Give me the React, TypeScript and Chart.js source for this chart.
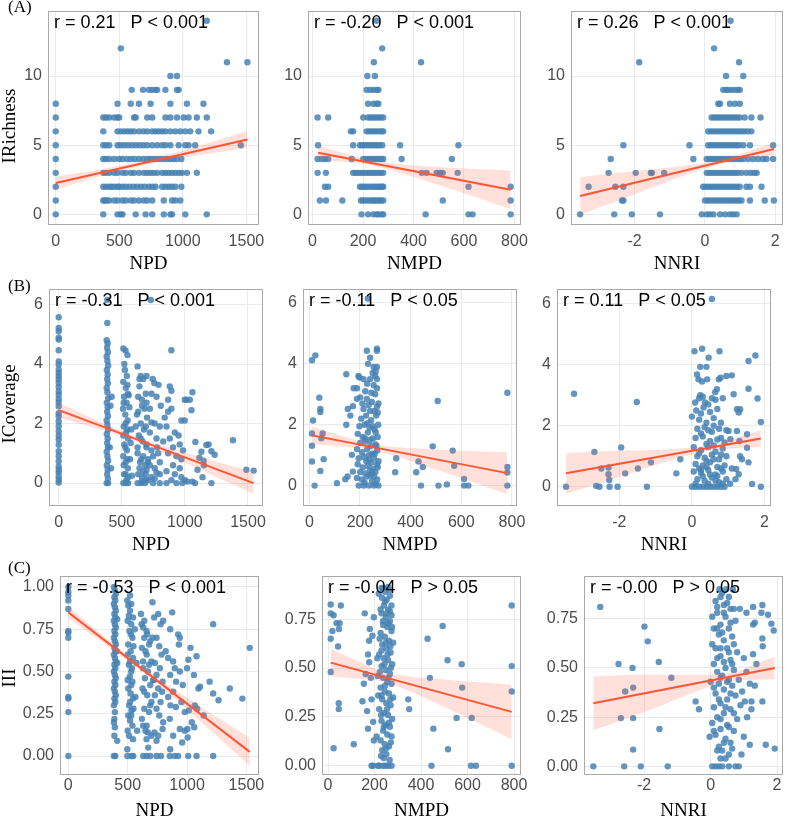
import React, { useEffect, useRef } from 'react';
import { Chart, registerables } from 'chart.js';
Chart.register(...registerables);

// ---------------- DATA ----------------
// Row A: IRichness is integer; index = IRichness value, entries = x values
const richnessNPD: number[][] = [
  [0, 374, 486, 512, 525, 629, 707, 759, 850, 902, 915, 1019, 1188],
  [0, 374, 386, 400, 421, 460, 486, 525, 551, 590, 616, 655, 694, 720, 759, 850, 915, 941, 980],
  [0, 374, 395, 421, 440, 460, 486, 499, 525, 551, 580, 610, 640, 670, 700, 733, 759, 785, 837, 863, 889, 915, 941, 988],
  [0, 374, 395, 421, 460, 486, 525, 551, 590, 616, 655, 694, 720, 745, 770, 798, 837, 863, 889, 915, 941, 967, 993, 1032, 1110],
  [0, 374, 395, 421, 460, 499, 525, 560, 590, 620, 655, 690, 720, 745, 772, 798, 825, 850, 876, 902, 928, 954, 988],
  [0, 374, 395, 421, 486, 512, 540, 570, 600, 630, 660, 690, 720, 759, 798, 837, 863, 902, 967, 1019, 1045, 1097, 1456],
  [0, 374, 486, 512, 540, 565, 590, 616, 655, 690, 720, 759, 785, 810, 837, 863, 902, 941, 980, 1019, 1058, 1123, 1222],
  [0, 374, 395, 421, 460, 486, 499, 616, 629, 720, 759, 863, 902, 954, 1006, 1045, 1110, 1188],
  [0, 486, 590, 655, 746, 902, 1032, 1162],
  [598, 686, 733, 759, 785, 798, 863, 954, 967],
  [902, 954],
  [1347, 1508],
  [512],
  [],
  [1188],
];
const richnessNMPD: number[][] = [
  [194, 220, 241, 254, 261, 274, 280, 448, 618, 634, 785],
  [29, 53, 118, 192, 200, 210, 222, 232, 240, 248, 256, 264, 272, 280, 516, 785],
  [49, 62, 188, 196, 205, 214, 224, 234, 244, 252, 260, 268, 276, 280, 618, 785],
  [20, 53, 161, 170, 180, 190, 200, 210, 220, 230, 240, 250, 260, 270, 280, 433, 452, 492, 505, 516, 575],
  [20, 36, 49, 62, 155, 201, 212, 222, 232, 242, 252, 262, 272, 280, 353, 552],
  [22, 161, 188, 196, 206, 216, 226, 236, 246, 256, 266, 276, 347, 578],
  [152, 161, 214, 224, 234, 244, 254, 264, 274, 280],
  [20, 62, 201, 220, 230, 240, 250, 260, 270, 280],
  [220, 241, 254, 261],
  [214, 228, 241, 254, 261],
  [217, 247],
  [243, 430],
  [276],
  [],
  [254],
];
const richnessNNRI: number[][] = [
  [-3.55, -2.58, -2.08, -1.28, -0.09, 0.05, 0.14, 0.24, 0.43, 0.57, 0.71, 0.8, 0.9],
  [-2.36, -2.32, 0.0, 0.08, 0.16, 0.24, 0.32, 0.4, 0.48, 0.56, 0.64, 0.72, 0.8, 0.88, 0.96, 1.04, 1.28, 1.7, 1.96],
  [-3.31, -2.55, -2.32, -0.05, 0.03, 0.11, 0.19, 0.27, 0.35, 0.43, 0.51, 0.59, 0.67, 0.75, 0.83, 0.91, 0.99, 1.18, 1.28, 1.61],
  [-2.74, -1.97, -1.54, -1.51, -1.16, 0.05, 0.13, 0.21, 0.29, 0.37, 0.45, 0.53, 0.61, 0.69, 0.77, 0.85, 0.93, 1.04, 1.18, 1.3, 1.4, 1.47],
  [-2.68, -0.33, 0.05, 0.13, 0.21, 0.29, 0.37, 0.45, 0.53, 0.61, 0.69, 0.77, 0.85, 0.93, 1.01, 1.09, 1.23, 1.37, 1.51, 1.65, 1.75, 1.94],
  [-2.32, -0.44, 0.09, 0.17, 0.25, 0.33, 0.41, 0.49, 0.57, 0.65, 0.73, 0.81, 0.89, 0.97, 1.09, 1.28, 1.94],
  [0.09, 0.17, 0.25, 0.33, 0.41, 0.49, 0.57, 0.65, 0.73, 0.81, 0.89, 0.97, 1.05, 1.13, 1.22, 1.32],
  [0.19, 0.27, 0.35, 0.43, 0.51, 0.59, 0.67, 0.75, 0.83, 0.91, 0.99, 1.13, 1.32, 1.58],
  [0.38, 0.43, 0.71, 0.85, 0.99],
  [0.52, 0.6, 0.66, 0.75, 0.85, 0.94, 0.99],
  [0.6, 1.09],
  [-1.87, 0.97],
  [0.26],
  [],
  [0.73],
];

// Row B: ICoverage [x, y]
const coverageNPD: number[][] = [
  [0, 5.57], [0, 5.21], [0, 5.1], [0, 4.88], [0, 4.82], [0, 4.46], [0, 4.09], [0, 3.98], [0, 3.81], [0, 3.7], [0, 3.59], [0, 3.48],
  [0, 3.36], [0, 3.23], [0, 3.08], [0, 2.97], [0, 2.83], [0, 2.72], [0, 2.58], [0, 2.35], [0, 2.24], [0, 2.07], [0, 1.91], [0, 1.74],
  [0, 1.59], [0, 1.46], [0, 1.29], [0, 1.07], [0, 0.9], [0, 0.73], [0, 0.56], [0, 0.45], [0, 0.36], [0, 0.22], [0, 0.11], [0, 0.02],
  [385, 6.15], [385, 5.38], [380, 4.8], [388, 4.7], [383, 4.55], [390, 4.4], [380, 4.25], [386, 4.1], [392, 3.95], [381, 3.8], [388, 3.65],
  [384, 3.5], [390, 3.35], [380, 3.2], [386, 3.05], [392, 2.85], [381, 2.7], [388, 2.55], [384, 2.4], [390, 2.25], [380, 2.1], [386, 1.95],
  [392, 1.8], [381, 1.65], [388, 1.5], [384, 1.35], [390, 1.2], [380, 1.05], [386, 0.9], [392, 0.75], [381, 0.6], [388, 0.45], [384, 0.3],
  [390, 0.15], [380, 0.0], [392, 0.0], [420, 2.9], [410, 2.6], [405, 1.2], [415, 0.5],
  [512, 4.52], [530, 4.45], [545, 4.3], [520, 4.0], [540, 3.6], [512, 3.4], [532, 3.2], [548, 3.0], [518, 2.9], [538, 2.7], [510, 2.5],
  [528, 2.3], [546, 2.1], [515, 1.9], [535, 1.7], [550, 1.5], [520, 1.3], [540, 1.1], [512, 0.9], [530, 0.7], [548, 0.5], [518, 0.3],
  [536, 0.1], [512, 0.0], [530, 0.0], [550, 0.0], [560, 2.55], [575, 1.8], [565, 0.8], [580, 0.25], [555, 2.95], [570, 1.35],
  [525, 3.8], [545, 3.3], [515, 2.7], [530, 2.0], [545, 1.8], [512, 1.6], [528, 1.2], [545, 0.8], [515, 0.6], [530, 0.3], [550, 0.2],
  [625, 3.92], [650, 3.6], [670, 3.5], [640, 3.25], [690, 3.0], [630, 2.9], [660, 2.6], [680, 2.5], [620, 2.3], [650, 2.0], [675, 1.8],
  [635, 1.6], [665, 1.4], [695, 1.2], [625, 1.0], [655, 0.8], [685, 0.6], [640, 0.5], [670, 0.4], [630, 0.3], [660, 0.2], [690, 0.1],
  [625, 0.0], [655, 0.0], [685, 0.0], [700, 2.2], [610, 1.9], [705, 0.7],
  [640, 3.5], [660, 2.8], [630, 2.4], [690, 1.9], [650, 1.5], [625, 1.2], [670, 0.9], [690, 0.3], [645, 0.7], [660, 0.05],
  [730, 6.15], [696, 3.6], [745, 3.5], [758, 3.36], [791, 3.3], [735, 3.0], [775, 2.9], [696, 2.7], [809, 2.6], [722, 2.5], [735, 2.04],
  [761, 2.0], [801, 1.9], [722, 1.7], [775, 1.5], [696, 1.3], [735, 1.1], [788, 1.0], [748, 0.9], [709, 0.8], [801, 0.7], [722, 0.6],
  [761, 0.5], [696, 0.45], [775, 0.35], [801, 0.3], [735, 0.2], [709, 0.1], [748, 0.0], [801, 0.0], [780, 1.2], [760, 0.15],
  [893, 4.46], [880, 3.25], [893, 3.1], [867, 2.8], [999, 2.8], [893, 2.5], [867, 2.4], [972, 2.1], [999, 2.1], [854, 1.9], [920, 1.7],
  [880, 1.5], [828, 1.4], [959, 1.3], [906, 1.2], [985, 1.1], [867, 1.0], [933, 0.9], [972, 0.8], [906, 0.6], [959, 0.5], [854, 0.4],
  [920, 0.3], [972, 0.2], [893, 0.1], [854, 0.0], [933, 0.0], [980, 0.0], [840, 2.2], [950, 1.6],
  [1060, 3.05], [1039, 2.8], [1012, 2.8], [1052, 2.45], [1083, 1.38], [1131, 1.05], [1170, 1.28], [1188, 1.3], [1210, 1.07], [1236, 0.95],
  [1115, 0.85], [1148, 0.75], [1150, 0.6], [1100, 0.45], [1140, 0.2], [1210, 0.0], [1060, 0.05], [1080, 0.0], [1000, 0.1], [1020, 0.05],
  [1381, 1.44], [1487, 0.45], [1545, 0.42],
];
const coverageNMPD: number[][] = [
  [10.5, 4.12], [23.7, 4.28], [14.5, 2.14], [10.5, 1.71], [10.5, 1.31], [10.5, 0.79], [21, 0], [39.4, 2.89], [43.4, 2.52], [43.4, 2.42],
  [47.3, 1.56], [43.4, 0.48], [52.6, 1.71], [56.5, 0.87], [109, 0.08], [146, 2.0], [152, 2.52], [146, 3.66], [151, 0.3], [142, 0.21],
  [162, 2.3], [168, 1.01], [172, 2.61], [172, 0.46],
  [227, 4.43], [267, 4.5], [267, 4.43], [240, 4.2], [254, 3.9], [267, 3.9], [194, 3.6], [198, 3.55], [214, 3.5], [240, 3.5], [260, 3.6],
  [267, 3.5], [175, 3.2], [188, 3.2], [221, 3.1], [254, 3.3], [267, 3.2], [201, 2.9], [227, 2.85], [247, 2.75], [267, 2.6], [188, 2.85],
  [214, 2.52], [234, 2.65], [257, 2.45], [273, 2.7], [205, 2.2], [224, 2.3], [244, 2.15], [264, 2.3], [198, 1.95], [218, 2.0], [238, 1.9],
  [258, 1.85], [272, 2.0], [191, 1.7], [211, 1.6], [231, 1.75], [251, 1.55], [270, 1.6], [201, 1.4], [221, 1.45], [241, 1.3], [261, 1.35],
  [188, 1.2], [208, 1.1], [228, 1.2], [248, 1.05], [268, 1.15], [195, 0.9], [215, 0.95], [235, 0.85], [255, 0.9], [273, 0.8], [191, 0.7],
  [211, 0.6], [231, 0.65], [251, 0.55], [270, 0.6], [201, 0.45], [221, 0.4], [241, 0.35], [261, 0.45], [188, 0.25], [208, 0.2], [228, 0.3],
  [248, 0.15], [268, 0.2], [195, 0.0], [215, 0.0], [235, 0.0], [255, 0.0], [273, 0.0], [231, 6.15],
  [232, 4.0], [250, 3.7], [262, 3.75], [228, 3.35], [245, 3.05], [260, 3.0], [210, 2.7], [240, 2.45], [270, 2.4], [230, 2.05], [250, 1.95],
  [262, 1.75], [220, 1.55], [240, 1.5], [265, 1.3], [235, 1.0], [258, 1.05], [245, 0.75], [225, 0.8], [268, 0.7], [240, 0.5], [255, 0.3],
  [218, 0.1], [262, 0.05], [248, 0.4],
  [343, 0.9], [339, 0.44], [422, 0.44], [431, 0.79], [448, 0.61], [441, 0], [487, 1.29], [507, 2.78], [510, 0], [543, 0.04], [566, 1.15],
  [572, 0.65], [611, 0.22], [611, 0], [628, 0], [782, 3.05], [782, 0.61], [782, 0.43], [782, 0],
];
const coverageNNRI: number[][] = [
  [-3.47, 0], [-3.25, 3.05], [-2.69, 1.14], [-2.64, 0.03], [-2.55, 0], [-2.5, 0.6], [-2.3, 0.63], [-2.3, 0.41], [-2.28, 0.22], [-2.27, 0],
  [-2.05, 0], [-1.95, 1.29], [-1.84, 0.44], [-1.52, 2.78], [-1.49, 0.6], [-1.24, 0], [-1.13, 0.8], [-0.43, 0.44], [-0.32, 0.9],
  [0.07, 4.44], [0.28, 4.52], [0.76, 4.44], [0.46, 4.23], [0.23, 3.93], [0.4, 3.93], [0.14, 3.68], [0.18, 3.52], [0.28, 3.45], [0.42, 3.52],
  [0.74, 3.52], [0.79, 3.57], [0.69, 3.2], [0.64, 3.1], [0.09, 2.76], [0.23, 3.0], [0.3, 2.95], [0.36, 2.76], [0.55, 2.9], [0.85, 2.9],
  [0.12, 2.5], [0.32, 2.6], [0.5, 2.45], [0.7, 2.55], [0.0, 2.3], [0.2, 2.2], [0.4, 2.1], [0.6, 2.25], [0.8, 2.1], [0.15, 1.9], [0.35, 1.95],
  [0.55, 1.8], [0.75, 1.9], [0.95, 1.85], [0.1, 1.6], [0.3, 1.65], [0.5, 1.5], [0.7, 1.55], [0.9, 1.45], [0.05, 1.3], [0.25, 1.2], [0.45, 1.3],
  [0.65, 1.15], [0.85, 1.25], [0.15, 1.0], [0.35, 0.95], [0.55, 1.05], [0.75, 0.9], [0.95, 1.0], [0.1, 0.75], [0.3, 0.7], [0.5, 0.8],
  [0.7, 0.65], [0.9, 0.7], [0.05, 0.5], [0.25, 0.45], [0.45, 0.55], [0.65, 0.4], [0.85, 0.5], [0.15, 0.25], [0.35, 0.2], [0.55, 0.3],
  [0.75, 0.15], [0.95, 0.25], [0.0, 0.0], [0.1, 0.0], [0.2, 0.0], [0.3, 0.0], [0.4, 0.0], [0.5, 0.0], [0.6, 0.0], [0.7, 0.0], [0.8, 0.0],
  [0.9, 0.0], [0.55, 6.15],
  [0.2, 2.9], [0.45, 2.7], [0.65, 2.85], [0.25, 2.4], [0.6, 2.0], [0.45, 1.85], [0.25, 1.75], [0.8, 1.6], [0.4, 1.4], [0.6, 1.35], [0.2, 1.1],
  [0.8, 1.05], [0.4, 0.85], [0.6, 0.9], [0.2, 0.6], [0.4, 0.65], [0.8, 0.6], [0.3, 0.35], [0.5, 0.4], [0.7, 0.35], [0.1, 0.1], [0.45, 0.1],
  [0.65, 0.2], [0.85, 0.1], [0.25, 0.55],
  [0.95, 3.63], [1.1, 3.65], [1.15, 3.03], [1.29, 2.43], [1.33, 2.54], [1.24, 2.54], [1.56, 4.12], [1.75, 4.3], [1.56, 3.21], [1.81, 2.89],
  [1.9, 2.12], [1.24, 1.83], [1.52, 1.72], [1.31, 1.5], [1.52, 1.28], [1.33, 1.0], [1.38, 0.9], [1.22, 0.58], [1.29, 0.41], [1.56, 0.8],
  [1.66, 0.09], [1.9, 0], [1.01, 1.83], [1.06, 1.56], [1.1, 0.6], [1.2, 0.25], [1.05, 0.1],
];

// Row C: III [x, y]
const indexNPD: number[][] = [
  [0, 1.0], [0, 0.97], [0, 0.95], [0, 0.92], [0, 0.87], [0, 0.74], [0, 0.73], [0, 0.7], [0, 0.47], [0, 0.35], [0, 0.34], [0, 0.26], [0, 0.0],
  [384, 1.0], [392, 0.98], [400, 0.96], [388, 0.94], [396, 0.92], [384, 0.9], [392, 0.88], [400, 0.86], [388, 0.84], [396, 0.82], [412, 0.81],
  [384, 0.8], [392, 0.78], [400, 0.76], [388, 0.74], [396, 0.72], [384, 0.7], [392, 0.68], [400, 0.66], [388, 0.64], [396, 0.62], [384, 0.6],
  [392, 0.58], [400, 0.56], [388, 0.54], [396, 0.52], [384, 0.5], [392, 0.48], [400, 0.46], [388, 0.44], [396, 0.42], [384, 0.4], [392, 0.38],
  [400, 0.36], [388, 0.34], [396, 0.32], [384, 0.3], [392, 0.26], [388, 0.22], [384, 0.2], [392, 0.17], [388, 0.12], [412, 0.09], [384, 0.0],
  [396, 0.0], [408, 0.62], [412, 0.55],
  [497, 0.92], [505, 0.89], [520, 0.86], [510, 0.83], [530, 0.78], [515, 0.74], [540, 0.7], [505, 0.66], [525, 0.62], [545, 0.58], [510, 0.54],
  [530, 0.5], [518, 0.47], [540, 0.44], [505, 0.4], [525, 0.37], [545, 0.34], [512, 0.3], [532, 0.27], [505, 0.24], [520, 0.21], [540, 0.18],
  [512, 0.12], [497, 0.04], [497, 0.0], [533, 0.0], [547, 0.0], [560, 0.75], [575, 0.55], [565, 0.35], [580, 0.15],
  [520, 0.95], [530, 0.9], [545, 0.82], [500, 0.8], [528, 0.72], [548, 0.65], [500, 0.6], [520, 0.56], [535, 0.52], [500, 0.45], [530, 0.42],
  [520, 0.32], [548, 0.28], [530, 0.24], [500, 0.15], [545, 0.1],
  [612, 0.84], [617, 0.78], [631, 0.76], [659, 0.74], [640, 0.7], [680, 0.66], [620, 0.64], [660, 0.6], [700, 0.56], [630, 0.52], [670, 0.5],
  [645, 0.46], [690, 0.42], [625, 0.4], [665, 0.36], [700, 0.32], [640, 0.28], [680, 0.26], [620, 0.22], [660, 0.18], [700, 0.12], [659, 0.1],
  [673, 0.05], [631, 0.0], [659, 0.0], [743, 0.0], [710, 0.7], [715, 0.45], [650, 0.15],
  [640, 0.8], [665, 0.72], [690, 0.68], [650, 0.62], [630, 0.56], [680, 0.54], [640, 0.38], [690, 0.3], [630, 0.18], [670, 0.14], [690, 0.0],
  [709, 0.91], [757, 0.84], [723, 0.82], [799, 0.8], [777, 0.78], [743, 0.7], [766, 0.65], [785, 0.6], [729, 0.55], [771, 0.52], [743, 0.48],
  [794, 0.44], [757, 0.4], [729, 0.36], [777, 0.32], [743, 0.28], [766, 0.24], [799, 0.2], [726, 0.14], [757, 0.12], [743, 0.09], [794, 0.16],
  [780, 0.0], [720, 0.45], [790, 0.38],
  [875, 0.85], [858, 0.75], [925, 0.72], [939, 0.7], [931, 0.66], [841, 0.58], [883, 0.56], [897, 0.52], [939, 0.5], [858, 0.48], [908, 0.44],
  [964, 0.42], [883, 0.38], [841, 0.35], [953, 0.32], [906, 0.29], [981, 0.26], [855, 0.22], [939, 0.16], [981, 0.15], [883, 0.12], [959, 0.08],
  [858, 0.04], [855, 0.0], [897, 0.0], [925, 0.0], [820, 0.62], [860, 0.3],
  [1029, 0.64], [1080, 0.59], [1011, 0.57], [1000, 0.52], [1058, 0.48], [1096, 0.4], [1110, 0.41], [1190, 0.44], [1220, 0.37], [1220, 0.78],
  [1265, 0.33], [1065, 0.3], [1085, 0.28], [1015, 0.27], [1040, 0.2], [1060, 0.17], [1003, 0.16], [1140, 0.24], [1005, 0.11], [1080, 0.0],
  [1220, 0.0], [1010, 0.0], [1360, 0.4], [1466, 0.34], [1528, 0.64],
];
const indexNMPD: number[][] = [
  [11.5, 0.825], [11.5, 0.78], [24, 0.77], [55, 0.82], [36, 0.73], [50, 0.73], [47, 0.7], [11.5, 0.65], [18.7, 0.69], [43, 0.61], [11.5, 0.48],
  [46, 0.32], [46, 0.29], [24, 0.09], [110.6, 0.11], [148, 0.33], [154, 0.42], [162, 0.47], [172, 0.19], [168, 0.28], [172, 0.57], [177, 0.53],
  [177, 0.64], [180, 0.7], [158, 0.78], [197, 0.76], [191, 0.665], [184, 0.45], [187, 0.34], [194, 0.225], [197, 0.13], [194, 0], [215, 0], [187, 0],
  [230, 0.91], [237, 0.91], [259, 0.915], [245, 0.89], [266, 0.87], [252, 0.85], [273, 0.82], [240, 0.82], [259, 0.8], [273, 0.77], [230, 0.78],
  [248, 0.76], [266, 0.74], [237, 0.72], [255, 0.71], [273, 0.69], [226, 0.68], [244, 0.66], [262, 0.64], [280, 0.63], [233, 0.62], [251, 0.6],
  [269, 0.58], [220, 0.57], [240, 0.55], [258, 0.54], [276, 0.52], [230, 0.51], [248, 0.49], [266, 0.47], [214, 0.46], [237, 0.45], [255, 0.43],
  [273, 0.42], [226, 0.4], [244, 0.38], [262, 0.37], [280, 0.35], [233, 0.34], [251, 0.32], [269, 0.31], [220, 0.29], [240, 0.27], [258, 0.26],
  [276, 0.24], [230, 0.23], [248, 0.21], [266, 0.2], [237, 0.18], [255, 0.16], [273, 0.15], [226, 0.13], [244, 0.11], [262, 0.1], [233, 0.08],
  [251, 0.06], [240, 0.04], [220, 0.0], [237, 0.0], [248, 0.0], [259, 0.0], [273, 0.0], [212, 0.55], [216, 0.36], [209, 0.15],
  [218, 0.88], [232, 0.86], [262, 0.9], [245, 0.84], [226, 0.8], [266, 0.79], [252, 0.78], [236, 0.74], [258, 0.73], [275, 0.71], [222, 0.65],
  [249, 0.63], [268, 0.61], [230, 0.59], [256, 0.57], [242, 0.52], [270, 0.5], [223, 0.48], [260, 0.45], [245, 0.41], [230, 0.36], [268, 0.34],
  [254, 0.29], [228, 0.26], [262, 0.22], [240, 0.2], [270, 0.12], [250, 0.09], [228, 0.05], [265, 0.03],
  [345, 0.34], [349, 0.29], [428, 0.65], [438, 0.45], [493, 0.715], [453, 0.19], [445, 0], [514, 0.54], [516, 0.085], [553, 0.245], [575, 0.52],
  [577, 0.4], [618, 0.245], [615, 0], [636, 0], [790, 0.82], [790, 0.51], [790, 0.38], [790, 0],
];
const indexNNRI: number[][] = [
  [-3.53, 0], [-3.32, 0.81], [-2.77, 0.52], [-2.7, 0.245], [-2.57, 0.38], [-2.6, 0], [-2.35, 0.5], [-2.33, 0.4], [-2.33, 0.245], [-2.33, 0.085],
  [-2.1, 0], [-1.99, 0.71], [-1.89, 0.635], [-1.56, 0.53], [-1.54, 0.19], [-1.29, 0], [-1.18, 0.45], [-0.45, 0.33], [-0.35, 0.29], [-0.03, 0.15],
  [0.27, 0.9], [0.47, 0.9], [0.67, 0.9], [0.35, 0.88], [0.55, 0.86], [0.15, 0.84], [0.4, 0.82], [0.6, 0.8], [0.2, 0.78], [0.05, 0.76], [0.45, 0.76],
  [0.75, 0.74], [0.3, 0.72], [0.1, 0.7], [0.55, 0.7], [0.25, 0.67], [0.65, 0.66], [0.4, 0.64], [0.05, 0.62], [0.15, 0.6], [0.5, 0.6], [0.8, 0.58],
  [0.3, 0.56], [0.6, 0.54], [0.1, 0.52], [0.45, 0.5], [0.7, 0.49], [0.2, 0.48], [0.35, 0.46], [0.55, 0.44], [0.85, 0.44], [0.0, 0.43], [0.25, 0.42],
  [0.65, 0.41], [0.4, 0.39], [0.15, 0.37], [0.75, 0.36], [0.5, 0.34], [0.3, 0.32], [0.9, 0.31], [0.1, 0.3], [0.6, 0.29], [0.4, 0.27], [0.2, 0.25],
  [0.8, 0.24], [0.05, 0.22], [0.5, 0.21], [0.3, 0.19], [0.7, 0.18], [0.15, 0.16], [0.45, 0.14], [0.6, 0.12], [0.25, 0.1], [0.35, 0.08], [0.55, 0.06],
  [0.3, 0.04], [0.05, 0.0], [0.15, 0.0], [0.25, 0.0], [0.35, 0.0], [0.55, 0.0], [0.75, 0.0], [0.85, 0.0], [0.88, 0.8],
  [0.3, 0.86], [0.5, 0.83], [0.2, 0.81], [0.7, 0.8], [0.4, 0.78], [0.6, 0.73], [0.2, 0.7], [0.35, 0.68], [0.7, 0.62], [0.3, 0.6], [0.55, 0.58],
  [0.2, 0.55], [0.4, 0.53], [0.65, 0.52], [0.3, 0.45], [0.5, 0.43], [0.1, 0.4], [0.6, 0.37], [0.25, 0.34], [0.45, 0.3], [0.7, 0.27], [0.3, 0.24],
  [0.55, 0.2], [0.1, 0.18], [0.4, 0.12], [0.2, 0.08], [0.45, 0.04], [0.65, 0.09],
  [1.08, 0.78], [1.28, 0.81], [1.33, 0.73], [1.53, 0.78], [1.56, 0.82], [1.28, 0.72], [1.73, 0.77], [1.83, 0.725], [1.9, 0.69], [1.56, 0.65],
  [1.57, 0.61], [1.28, 0.57], [1.38, 0.52], [1.08, 0.48], [1.18, 0.42], [1.33, 0.41], [1.23, 0.33], [1.56, 0.33], [1.23, 0.29], [1.18, 0.11],
  [1.66, 0.11], [1.93, 0.09], [0.93, 0.06], [1.03, 0.33], [1.0, 0.55], [1.1, 0.25], [0.95, 0.38], [1.0, 0.15],
];

// Fitted lines [x, y] and confidence bands [x, lower, upper]
const lineRichNPD = [[0, 2.27], [1508, 5.41]];
const bandRichNPD = [[0, 1.79, 2.75], [350, 2.75, 3.25], [720, 3.6, 3.94], [1100, 4.23, 4.89], [1508, 4.79, 6.03]];
const lineRichNMPD = [[22, 4.46], [785, 1.78]];
const bandRichNMPD = [[22, 3.96, 4.96], [130, 3.78, 4.38], [245, 3.5, 3.86], [500, 2.13, 3.43], [785, 0.39, 3.17]];
const lineRichNNRI = [[-3.55, 1.33], [1.96, 4.72]];
const bandRichNNRI = [[-3.55, -0.02, 2.68], [-2, 1.43, 3.13], [-0.5, 2.89, 3.53], [0.45, 3.64, 3.94], [1.96, 4.27, 5.17]];
const lineCovNPD = [[0, 2.45], [1545, 0.0]];
const bandCovNPD = [[0, 2.2, 2.7], [300, 1.83, 2.11], [620, 1.39, 1.55], [1000, 0.69, 1.03], [1545, -0.37, 0.37]];
const lineCovNMPD = [[10.5, 1.65], [782, 0.41]];
const bandCovNMPD = [[10.5, 1.36, 1.94], [130, 1.29, 1.63], [245, 1.17, 1.37], [500, 0.53, 1.19], [782, -0.28, 1.1]];
const lineCovNNRI = [[-3.47, 0.44], [1.9, 1.58]];
const bandCovNNRI = [[-3.47, -0.23, 1.11], [-2, 0.32, 1.18], [-0.5, 0.9, 1.24], [0.4, 1.17, 1.35], [1.9, 1.31, 1.85]];
const lineIdxNPD = [[0, 0.85], [1528, 0.025]];
const bandIdxNPD = [[0, 0.815, 0.885], [350, 0.64, 0.68], [650, 0.485, 0.515], [1000, 0.275, 0.345], [1528, -0.058, 0.108]];
const lineIdxNMPD = [[11.5, 0.528], [790, 0.276]];
const bandIdxNMPD = [[11.5, 0.458, 0.598], [130, 0.445, 0.535], [245, 0.428, 0.478], [500, 0.301, 0.441], [790, 0.136, 0.416]];
const lineIdxNNRI = [[-3.53, 0.32], [1.93, 0.5]];
const bandIdxNNRI = [[-3.53, 0.183, 0.457], [-2, 0.275, 0.465], [-0.5, 0.375, 0.465], [0.4, 0.43, 0.47], [1.93, 0.443, 0.557]];

const statLabels = [
  'r = 0.21   P < 0.001', 'r = -0.20   P < 0.001', 'r = 0.26   P < 0.001',
  'r = -0.31   P < 0.001', 'r = -0.11   P < 0.05', 'r = 0.11   P < 0.05',
  'r = -0.53   P < 0.001', 'r = -0.04   P > 0.05', 'r = -0.00   P > 0.05',
];
const xTitles = ['NPD', 'NMPD', 'NNRI'];
const yTitles = ['IRichness', 'ICoverage', 'III'];
const rowTags = ['(A)', '(B)', '(C)'];
const ticksNPD = [0, 500, 1000, 1500];
const ticksNMPD = [0, 200, 400, 600, 800];
const ticksNNRI = [-2, 0, 2];
const ticksRich = [0, 5, 10];
const ticksCov = [0, 2, 4, 6];
const ticksIdx1 = [0, 0.25, 0.5, 0.75, 1.0];
const ticksIdx = [0, 0.25, 0.5, 0.75];

// ---------------- LAYOUT ----------------
const levelsToPoints = (rows: number[][]) => rows.flatMap((xs, y) => xs.map((x) => ({ x, y })));
const pairsToPoints = (pairs: number[][]) => pairs.map(([x, y]) => ({ x, y }));

const rowsY = [
  { ct: 0, cb: 278, T: 11, B: 225, tickPad: 6.5, titleY: 264, yTitleY: 126, tagY: 8 },
  { ct: 268, cb: 558, T: 289, B: 506, tickPad: 6.5, titleY: 545, yTitleY: 404, tagY: 287 },
  { ct: 552, cb: 821, T: 576, B: 775, tickPad: 1, titleY: 811, yTitleY: 678, tagY: 569 },
];
const colsX = [
  { cl: 0, cr: 270, titleShift: -5 },
  { cl: 264, cr: 532, titleShift: 0 },
  { cl: 526, cr: 787, titleShift: 0 },
];
const panelLR = [
  [[48, 259], [308, 521], [571, 783]],
  [[49, 263], [303, 517], [557, 771]],
  [[60, 259], [322, 521], [584, 783]],
];

type Spec = {
  r: number; c: number;
  points: { x: number; y: number }[];
  line: number[][]; band: number[][];
  xr: [number, number]; yr: [number, number];
  xt: number[]; yt: number[]; yDec: number;
};

const specs: Spec[] = [
  { r: 0, c: 0, points: levelsToPoints(richnessNPD), line: lineRichNPD, band: bandRichNPD, xr: [-61, 1599], yr: [-0.77, 14.7], xt: ticksNPD, yt: ticksRich, yDec: 0 },
  { r: 0, c: 1, points: levelsToPoints(richnessNMPD), line: lineRichNMPD, band: bandRichNMPD, xr: [-18, 826], yr: [-0.77, 14.7], xt: ticksNMPD, yt: ticksRich, yDec: 0 },
  { r: 0, c: 2, points: levelsToPoints(richnessNNRI), line: lineRichNNRI, band: bandRichNNRI, xr: [-3.81, 2.22], yr: [-0.77, 14.7], xt: ticksNNRI, yt: ticksRich, yDec: 0 },
  { r: 1, c: 0, points: pairsToPoints(coverageNPD), line: lineCovNPD, band: bandCovNPD, xr: [-77, 1619], yr: [-0.77, 6.52], xt: ticksNPD, yt: ticksCov, yDec: 0 },
  { r: 1, c: 1, points: pairsToPoints(coverageNMPD), line: lineCovNMPD, band: bandCovNMPD, xr: [-25, 820], yr: [-0.67, 6.46], xt: ticksNMPD, yt: ticksCov, yDec: 0 },
  { r: 1, c: 2, points: pairsToPoints(coverageNNRI), line: lineCovNNRI, band: bandCovNNRI, xr: [-3.72, 2.18], yr: [-0.63, 6.48], xt: ticksNNRI, yt: ticksCov, yDec: 0 },
  { r: 2, c: 0, points: pairsToPoints(indexNPD), line: lineIdxNPD, band: bandIdxNPD, xr: [-70, 1606], yr: [-0.112, 1.065], xt: ticksNPD, yt: ticksIdx1, yDec: 2 },
  { r: 2, c: 1, points: pairsToPoints(indexNMPD), line: lineIdxNMPD, band: bandIdxNMPD, xr: [-26, 830], yr: [-0.047, 0.971], xt: ticksNMPD, yt: ticksIdx, yDec: 2 },
  { r: 2, c: 2, points: pairsToPoints(indexNNRI), line: lineIdxNNRI, band: bandIdxNNRI, xr: [-3.81, 2.18], yr: [-0.044, 0.967], xt: ticksNNRI, yt: ticksIdx, yDec: 2 },
];

const SANS = '"Liberation Sans", Arial, Helvetica, sans-serif';
const SERIF = '"Liberation Serif", "Times New Roman", serif';

const decorPlugin = {
  id: 'decor',
  afterDraw(chart: any, _args: any, opts: any) {
    const { ctx, chartArea: a } = chart;
    ctx.save();
    ctx.strokeStyle = '#a9a9a9';
    ctx.lineWidth = 1;
    ctx.strokeRect(Math.round(a.left) + 0.5, Math.round(a.top) + 0.5, Math.round(a.right - a.left) - 1, Math.round(a.bottom - a.top) - 1);
    for (const t of opts.texts || []) {
      ctx.save();
      ctx.font = t.font;
      ctx.fillStyle = '#000';
      ctx.textAlign = t.align || 'left';
      ctx.textBaseline = 'middle';
      ctx.translate(t.x, t.y);
      if (t.rot) ctx.rotate(t.rot);
      ctx.fillText(t.text, 0, 0);
      ctx.restore();
    }
    ctx.restore();
  },
};

function Panel({ s, idx }: { s: Spec; idx: number }) {
  const ref = useRef<HTMLCanvasElement | null>(null);
  const row = rowsY[s.r];
  const col = colsX[s.c];
  const [L, R] = panelLR[s.r][s.c];
  const w = col.cr - col.cl;
  const h = row.cb - row.ct;

  useEffect(() => {
    if (!ref.current) return;
    const texts: any[] = [
      { text: statLabels[idx], x: L + 6 - col.cl, y: row.T + 12.5 - row.ct, font: `18px ${SANS}` },
      { text: xTitles[s.c], x: (L + R) / 2 + col.titleShift - col.cl, y: row.titleY - row.ct, font: `19px ${SERIF}`, align: 'center' },
    ];
    if (s.c === 0) {
      texts.push({ text: yTitles[s.r], x: 10 - col.cl, y: row.yTitleY - row.ct, font: `19px ${SERIF}`, align: 'center', rot: -Math.PI / 2 });
      texts.push({ text: rowTags[s.r], x: 8 - col.cl, y: row.tagY - row.ct, font: `17px ${SERIF}`, align: 'left' });
    }
    const fillColor = 'rgba(255,99,71,0.2)';
    const chart = new Chart(ref.current, {
      type: 'scatter',
      data: {
        datasets: [
          {
            type: 'line', data: s.line.map(([x, y]) => ({ x, y })), borderColor: '#ff5533', borderWidth: 2,
            pointRadius: 0, showLine: true, fill: false, order: 1,
          } as any,
          {
            type: 'line', data: s.band.map(([x, , hi]) => ({ x, y: hi })), borderColor: 'rgba(0,0,0,0)', borderWidth: 0,
            pointRadius: 0, showLine: true, fill: false, cubicInterpolationMode: 'monotone', order: 2,
          } as any,
          {
            type: 'line', data: s.band.map(([x, lo]) => ({ x, y: lo })), borderColor: 'rgba(0,0,0,0)', borderWidth: 0,
            pointRadius: 0, showLine: true, fill: 1, backgroundColor: fillColor, cubicInterpolationMode: 'monotone', order: 2,
          } as any,
          {
            type: 'scatter', data: s.points, pointRadius: 3.2, pointBorderWidth: 0, borderWidth: 0,
            backgroundColor: 'rgba(70,130,180,0.85)', pointBackgroundColor: 'rgba(70,130,180,0.85)', order: 3,
          } as any,
        ],
      },
      options: {
        animation: false,
        responsive: false,
        maintainAspectRatio: false,
        devicePixelRatio: 1,
        events: [],
        layout: { autoPadding: false, padding: { left: 0, top: row.T - row.ct, right: col.cr - R, bottom: 0 } },
        plugins: { legend: { display: false }, tooltip: { enabled: false }, decor: { texts } } as any,
        scales: {
          x: {
            type: 'linear', min: s.xr[0], max: s.xr[1],
            afterBuildTicks: (sc: any) => { sc.ticks = s.xt.map((v) => ({ value: v })); },
            afterFit: (sc: any) => { sc.height = row.cb - row.B; sc.paddingLeft = 0; sc.paddingRight = 0; },
            grid: { color: '#ebebeb', lineWidth: 1, drawTicks: false },
            border: { display: false },
            ticks: {
              padding: row.tickPad, color: '#4d4d4d', font: { family: SANS, size: 16 }, maxRotation: 0, autoSkip: false,
              callback: (v: any) => String(v),
            },
          },
          y: {
            type: 'linear', min: s.yr[0], max: s.yr[1],
            afterBuildTicks: (sc: any) => { sc.ticks = s.yt.map((v) => ({ value: v })); },
            afterFit: (sc: any) => { sc.width = L - col.cl; sc.paddingTop = 0; sc.paddingBottom = 0; },
            grid: { color: '#ebebeb', lineWidth: 1, drawTicks: false },
            border: { display: false },
            ticks: {
              padding: 6, color: '#4d4d4d', font: { family: SANS, size: 16 }, autoSkip: false,
              callback: (v: any) => Number(v).toFixed(s.yDec),
            },
          },
        },
      } as any,
      plugins: [decorPlugin as any],
    });
    return () => chart.destroy();
  }, []);

  return (
    <canvas
      ref={ref}
      width={w}
      height={h}
      style={{ position: 'absolute', left: col.cl, top: row.ct, width: w, height: h }}
    />
  );
}

export default function App() {
  return (
    <div style={{ position: 'absolute', left: 0, top: 0, width: 787, height: 821, background: '#ffffff', overflow: 'hidden' }}>
      {specs.map((s, i) => (
        <Panel key={i} s={s} idx={i} />
      ))}
    </div>
  );
}
